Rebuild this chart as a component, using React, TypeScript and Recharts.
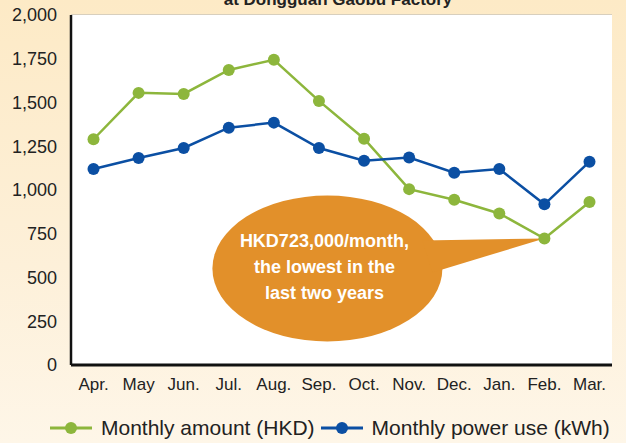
import { LineChart, Line, XAxis, YAxis, CartesianGrid, Legend, ReferenceDot } from 'recharts';

const months = ['Apr.', 'May', 'Jun.', 'Jul.', 'Aug.', 'Sep.', 'Oct.', 'Nov.', 'Dec.', 'Jan.', 'Feb.', 'Mar.'];
const amountHKD = [1290, 1555, 1549, 1686, 1744, 1509, 1293, 1005, 944, 866, 723, 931];
const powerKWh = [1120, 1183, 1240, 1356, 1385, 1240, 1167, 1186, 1099, 1120, 918, 1162];
const yTicks = [0, 250, 500, 750, 1000, 1250, 1500, 1750, 2000];

const GREEN = '#8db63c';
const BLUE = '#0b4fa3';
const ORANGE = '#e2902a';
const FONT = '"Liberation Sans", Arial, Helvetica, sans-serif';

const data = months.map((m, i) => ({ month: m, amount: amountHKD[i], power: powerKWh[i] }));

// speech bubble pointing at the Feb. low
const Callout = (props: any) => {
  const { cx, cy } = props;
  if (cx == null || cy == null) return null;
  const ex = cx - 217;
  const ey = cy + 30;
  return (
    <g>
      <ellipse cx={ex} cy={ey} rx={115} ry={73} fill={ORANGE} />
      <path d={`M${cx},${cy} L${cx - 122},${cy + 2} L${cx - 112},${cy + 34} Z`} fill={ORANGE} />
      <text x={ex - 3} textAnchor="middle" fill="#fff" fontWeight="bold" fontSize={18} fontFamily={FONT}>
        <tspan x={ex - 3} y={cy + 9}>HKD723,000/month,</tspan>
        <tspan x={ex - 3} y={cy + 35}>the lowest in the</tspan>
        <tspan x={ex - 3} y={cy + 61}>last two years</tspan>
      </text>
    </g>
  );
};

const LegendContent = (props: any) => {
  const items = props.payload || [];
  return (
    <div style={{ display: 'flex', alignItems: 'center', paddingLeft: 50, fontFamily: FONT, fontSize: 21, color: '#222' }}>
      {items.map((it: any) => (
        <div key={it.value} style={{ display: 'flex', alignItems: 'center', marginRight: 6 }}>
          <svg width={42} height={14} style={{ marginRight: 9 }}>
            <line x1={0} y1={7} x2={42} y2={7} stroke={it.color} strokeWidth={3} />
            <circle cx={21} cy={7} r={6} fill={it.color} />
          </svg>
          <span>{it.value}</span>
        </div>
      ))}
    </div>
  );
};

export default function App() {
  return (
    <div
      style={{
        position: 'relative',
        width: 626,
        height: 443,
        background: 'linear-gradient(to bottom, #fdeac6 0%, #fdf0d9 60%, #fef6e8 100%)',
        overflow: 'hidden',
      }}
    >
      <style>{`body{margin:0}`}</style>
      <svg width={626} height={20} style={{ position: 'absolute', left: 0, top: 0 }}>
        <text x={338} y={5} textAnchor="middle" fontWeight="bold" fontSize={17} fontFamily={FONT} fill="#222">
          at Dongguan Gaobu Factory
        </text>
      </svg>
      <LineChart
        width={626}
        height={443}
        data={data}
        margin={{ top: 15, right: 14, left: 11, bottom: 48 }}
        style={{ fontFamily: FONT }}
      >
        <rect x={71} y={15} width={541} height={350} fill="#fff" />
        <CartesianGrid vertical={false} stroke="#b3b3b3" strokeWidth={1.2} fill="#fff" />
        <XAxis
          dataKey="month"
          axisLine={{ stroke: '#111', strokeWidth: 3 }}
          tickLine={false}
          tick={{ fill: '#222', fontSize: 17 }}
          tickMargin={7}
          height={30}
          interval={0}
          padding={{ left: 22.5, right: 22.5 }}
        />
        <YAxis
          domain={[0, 2000]}
          ticks={yTicks}
          tickFormatter={(v: number) => v.toLocaleString('en-US')}
          axisLine={{ stroke: '#111', strokeWidth: 2.5 }}
          tickLine={false}
          tick={{ fill: '#222', fontSize: 18 }}
          tickMargin={8}
          width={60}
        />
        <ReferenceDot x="Feb." y={723} ifOverflow="visible" shape={Callout} />
        <Line
          type="linear"
          dataKey="amount"
          name="Monthly amount (HKD)"
          stroke={GREEN}
          strokeWidth={2.5}
          dot={{ r: 6, fill: GREEN, stroke: GREEN, strokeWidth: 0 }}
          isAnimationActive={false}
        />
        <Line
          type="linear"
          dataKey="power"
          name="Monthly power use (kWh)"
          stroke={BLUE}
          strokeWidth={2.5}
          dot={{ r: 6, fill: BLUE, stroke: BLUE, strokeWidth: 0 }}
          isAnimationActive={false}
        />
        <Legend
          layout="horizontal"
          verticalAlign="middle"
          align="center"
          content={LegendContent}
          wrapperStyle={{ top: 416, left: 0, width: 626 }}
        />
      </LineChart>
    </div>
  );
}
